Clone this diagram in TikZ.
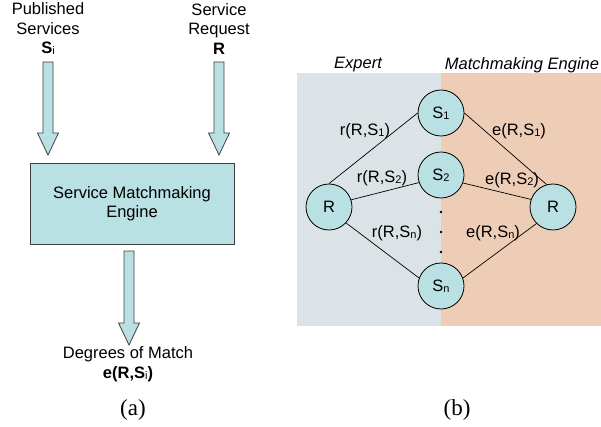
\documentclass[tikz,border=0pt]{standalone}
\usepackage{fontspec}
\setmainfont{Liberation Sans}
\newfontfamily\serifcap{Liberation Serif}
\definecolor{cyanfill}{HTML}{B9E0E2}
\definecolor{expertbg}{HTML}{DCE3E6}
\definecolor{enginebg}{HTML}{EECDB7}
\definecolor{edgegray}{HTML}{404040}
\newcommand\sbs[1]{\raisebox{-0.12ex}{\fontsize{11}{11}\selectfont #1}}
\newcommand\blockarrow[3]{%
  \fill[cyanfill] (#1-5,#2) -- (#1+5,#2) -- (#1+5,#3-22) -- (#1+10.5,#3-22) -- (#1,#3) -- (#1-10.5,#3-22) -- (#1-5,#3-22) -- cycle;
  \draw[edgegray,line width=0.8pt,line join=miter] (#1-5,#2) -- (#1+5,#2) -- (#1+5,#3-22) -- (#1+10.5,#3-22) -- (#1,#3) -- (#1-10.5,#3-22) -- (#1-5,#3-22) -- cycle;}
\begin{document}
\begin{tikzpicture}[x=1pt,y=-1pt,
  txt/.style={font=\fontsize{16.5}{19.5}\selectfont,inner sep=0pt,align=center},
  hdr/.style={font=\fontsize{16.5}{19.5}\selectfont\itshape,inner sep=0pt},
  circ/.style={circle,draw=black,line width=0.8pt,fill=cyanfill,minimum size=46pt,inner sep=0pt,font=\fontsize{16.5}{19.5}\selectfont},
  lnk/.style={black,line width=0.7pt},
  captxt/.style={font=\fontsize{23}{23}\selectfont\serifcap,inner sep=0pt}]
\useasboundingbox (0,0) rectangle (601,427);
% ---------- (a) ----------
\node[txt] (pub) at (48,29) {Published\\Services\\\textbf{S}\sbs{i}};
\node[txt] (req) at (219,29) {Service\\Request\\\textbf{R}};
\blockarrow{48}{62}{155}
\blockarrow{219}{62}{155}
\node[draw=edgegray,line width=0.8pt,fill=cyanfill,minimum width=204pt,minimum height=81pt,txt] (eng) at (132,203.5) {Service Matchmaking\\Engine};
\blockarrow{129}{251}{345}
\node[txt] (dom) at (128,364) {Degrees of Match\\\textbf{e(R,S}\sbs{i}\textbf{)}};
\node[captxt] (capa) at (133,410) {(a)};
% ---------- (b) ----------
\fill[expertbg] (297,73) rectangle (441,326);
\fill[enginebg] (441,73) rectangle (601,326);
\node[hdr] (hexp) at (358,65) {Expert};
\node[hdr] (heng) at (522,65) {Matchmaking Engine};
\node[circ] (s1) at (441,113) {S\sbs{1}};
\node[circ] (s2) at (441,175) {S\sbs{2}};
\node[circ] (sn) at (441,286) {S\sbs{n}};
\node[circ] (rl) at (329,207) {R};
\node[circ] (rr) at (553,207) {R};
\draw[lnk] (rl.north) -- (s1.west);
\draw[lnk] (rl.18) -- (s2.199);
\draw[lnk] (rl.-43) -- (sn.160);
\draw[lnk] (s1.east) -- (rr.106);
\draw[lnk] (s2.-20) -- (rr.161);
\draw[lnk] (sn.20) -- (rr.225);
\foreach \yy/\nm in {212/d1,232/d2,252/d3} \node[circle,fill=black,inner sep=0pt,minimum size=2.6pt] (\nm) at (441,\yy) {};
\node[txt] (l1) at (365,131) {r(R,S\sbs{1})};
\node[txt] (l2) at (519,131) {e(R,S\sbs{1})};
\node[txt] (l3) at (382,178) {r(R,S\sbs{2})};
\node[txt] (l4) at (512,180) {e(R,S\sbs{2})};
\node[txt] (l5) at (397,233) {r(R,S\sbs{n})};
\node[txt] (l6) at (493,233) {e(R,S\sbs{n})};
\node[captxt] (capb) at (457,410) {(b)};
\end{tikzpicture}
\end{document}
